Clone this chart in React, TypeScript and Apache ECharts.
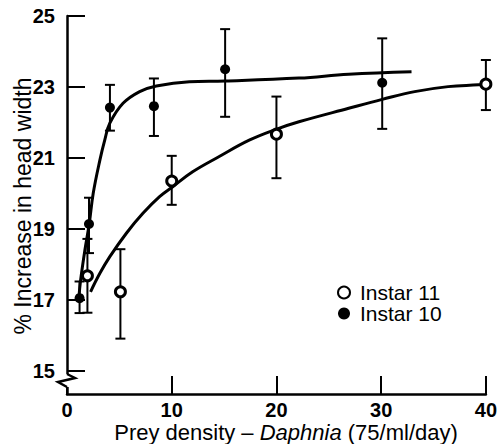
import React, { useEffect, useRef } from "react";
import * as echarts from "echarts";

const FONT = '"Liberation Sans", Arial, Helvetica, sans-serif';

// Axis ranges / ticks
const X_MIN = 0;
const X_MAX = 40;
const Y_MIN = 14.35;
const Y_MAX = 25;
const yTicks = [15, 17, 19, 21, 23, 25];

// Instar 10 (filled circles)
const instar10X = [1.2, 2.1, 4.1, 8.3, 15.1, 30.1];
const instar10Y = [17.05, 19.14, 22.42, 22.46, 23.5, 23.12];
const instar10Low = [16.63, 18.32, 21.77, 21.62, 22.16, 21.82];
const instar10High = [17.52, 19.88, 23.06, 23.24, 24.63, 24.37];

// Instar 11 (open circles)
const instar11X = [1.95, 5.1, 10.0, 20.0, 40.0];
const instar11Y = [17.68, 17.23, 20.35, 21.67, 23.08];
const instar11Low = [16.64, 15.91, 19.68, 20.43, 22.35];
const instar11High = [18.72, 18.43, 21.06, 22.73, 23.76];

// Fitted curves
const fit10X = [1.14, 1.3, 1.71, 2.12, 2.5, 3.14, 3.61, 4.09, 5.35, 6.94, 8.53, 11.69, 15.08, 22.15, 26.9, 32.9];
const fit10Y = [17.09, 17.56, 18.41, 19.14, 20.0, 20.94, 21.51, 21.98, 22.54, 22.87, 23.03, 23.15, 23.17, 23.25, 23.36, 23.43];
const fit11X = [2.25, 3.14, 4.09, 5.67, 7.25, 8.84, 10.1, 12.0, 14.54, 17.4, 20.1, 22.15, 26.9, 30.1, 33.2, 36.4, 39.3, 40.0];
const fit11Y = [17.23, 17.75, 18.22, 18.88, 19.44, 19.91, 20.19, 20.61, 21.04, 21.5, 21.82, 22.02, 22.4, 22.65, 22.87, 23.01, 23.06, 23.08];

const zip = (a: number[], b: number[]) => a.map((v, i) => [v, b[i]]);
const zip3 = (a: number[], b: number[], c: number[]) => a.map((v, i) => [v, b[i], c[i]]);

const errorRender = (params: any, api: any) => {
  const x = api.value(0);
  const lo = api.coord([x, api.value(1)]);
  const hi = api.coord([x, api.value(2)]);
  const hw = 5;
  const st = { stroke: "#000", lineWidth: 2 };
  return {
    type: "group",
    children: [
      { type: "line", shape: { x1: lo[0], y1: lo[1], x2: hi[0], y2: hi[1] }, style: st },
      { type: "line", shape: { x1: lo[0] - hw, y1: lo[1], x2: lo[0] + hw, y2: lo[1] }, style: st },
      { type: "line", shape: { x1: hi[0] - hw, y1: hi[1], x2: hi[0] + hw, y2: hi[1] }, style: st },
    ],
  };
};

export default function App() {
  const ref = useRef<HTMLDivElement>(null);
  useEffect(() => {
    document.body.style.margin = "0";
    if (!ref.current) return;
    const chart = echarts.init(ref.current, undefined, { renderer: "svg" });
    const axisLineStyle = { color: "#000", width: 2.5 };
    const labelStyle = { color: "#000", fontSize: 20, fontWeight: "bold", fontFamily: FONT };
    chart.setOption({
      animation: false,
      backgroundColor: "#fff",
      textStyle: { fontFamily: FONT },
      grid: { left: 67, right: 12, top: 16, bottom: 50 },
      xAxis: {
        type: "value",
        min: X_MIN,
        max: X_MAX,
        interval: 10,
        axisLine: { lineStyle: axisLineStyle },
        axisTick: { inside: true, length: 18, lineStyle: { color: "#000", width: 2 } },
        axisLabel: { ...labelStyle, margin: 6 },
        splitLine: { show: false },
      },
      yAxis: {
        type: "value",
        min: Y_MIN,
        max: Y_MAX,
        axisLine: { show: true, lineStyle: axisLineStyle },
        axisTick: { inside: true, length: 18, customValues: yTicks, lineStyle: { color: "#000", width: 2 } },
        axisLabel: { ...labelStyle, margin: 12, customValues: yTicks },
        splitLine: { show: false },
      },
      legend: {
        orient: "vertical",
        left: 332,
        top: 277,
        itemGap: 0,
        itemWidth: 22,
        itemHeight: 12,
        data: ["Instar 11", "Instar 10"],
        textStyle: { color: "#000", fontSize: 21, fontFamily: FONT, lineHeight: 20 },
      },
      series: [
        {
          name: "fit10",
          type: "line",
          data: zip(fit10X, fit10Y),
          smooth: 0.4,
          showSymbol: false,
          lineStyle: { color: "#000", width: 3 },
          z: 2,
        },
        {
          name: "fit11",
          type: "line",
          data: zip(fit11X, fit11Y),
          smooth: 0.4,
          showSymbol: false,
          lineStyle: { color: "#000", width: 3 },
          z: 2,
        },
        {
          name: "err10",
          type: "custom",
          renderItem: errorRender,
          data: zip3(instar10X, instar10Low, instar10High),
          encode: { x: 0, y: [1, 2] },
          z: 3,
        },
        {
          name: "err11",
          type: "custom",
          renderItem: errorRender,
          data: zip3(instar11X, instar11Low, instar11High),
          encode: { x: 0, y: [1, 2] },
          z: 3,
        },
        {
          name: "Instar 11",
          type: "scatter",
          data: zip(instar11X, instar11Y),
          symbol: "circle",
          symbolSize: 10,
          itemStyle: { color: "#fff", borderColor: "#000", borderWidth: 3, opacity: 1 },
          z: 5,
        },
        {
          name: "Instar 10",
          type: "scatter",
          data: zip(instar10X, instar10Y),
          symbol: "circle",
          symbolSize: 10,
          itemStyle: { color: "#000", opacity: 1 },
          z: 5,
        },
      ],
    });

    const o = chart.convertToPixel({ gridIndex: 0 }, [X_MIN, Y_MIN]) as number[];
    const ox = o[0];
    const oy = o[1];
    chart.setOption({
      graphic: [
        {
          type: "rect",
          shape: { x: ox - 4, y: oy - 20, width: 8, height: 13 },
          style: { fill: "#fff" },
          z: 100,
        },
        {
          type: "polyline",
          shape: { points: [[ox, oy - 20], [ox + 8, oy - 16], [ox - 9, oy - 12], [ox, oy - 7]] },
          style: { stroke: "#000", lineWidth: 2.5, fill: "none" },
          z: 101,
        },
        {
          type: "text",
          x: 23,
          y: 206,
          rotation: Math.PI / 2,
          style: {
            text: "% Increase in head width",
            fontSize: 23,
            fontFamily: FONT,
            fill: "#000",
            textAlign: "center",
            textVerticalAlign: "middle",
          },
        },
        {
          type: "text",
          x: 286,
          y: 432,
          style: {
            text: "{a|Prey density – }{b|Daphnia}{a| (75/ml/day)}",
            textAlign: "center",
            textVerticalAlign: "middle",
            rich: {
              a: { fontSize: 22, fontFamily: FONT, fill: "#000", color: "#000" },
              b: { fontSize: 22, fontFamily: FONT, fontStyle: "italic", fill: "#000", color: "#000" },
            },
          },
        },
      ],
    });
    return () => chart.dispose();
  }, []);
  return <div ref={ref} style={{ width: 500, height: 444 }} />;
}
